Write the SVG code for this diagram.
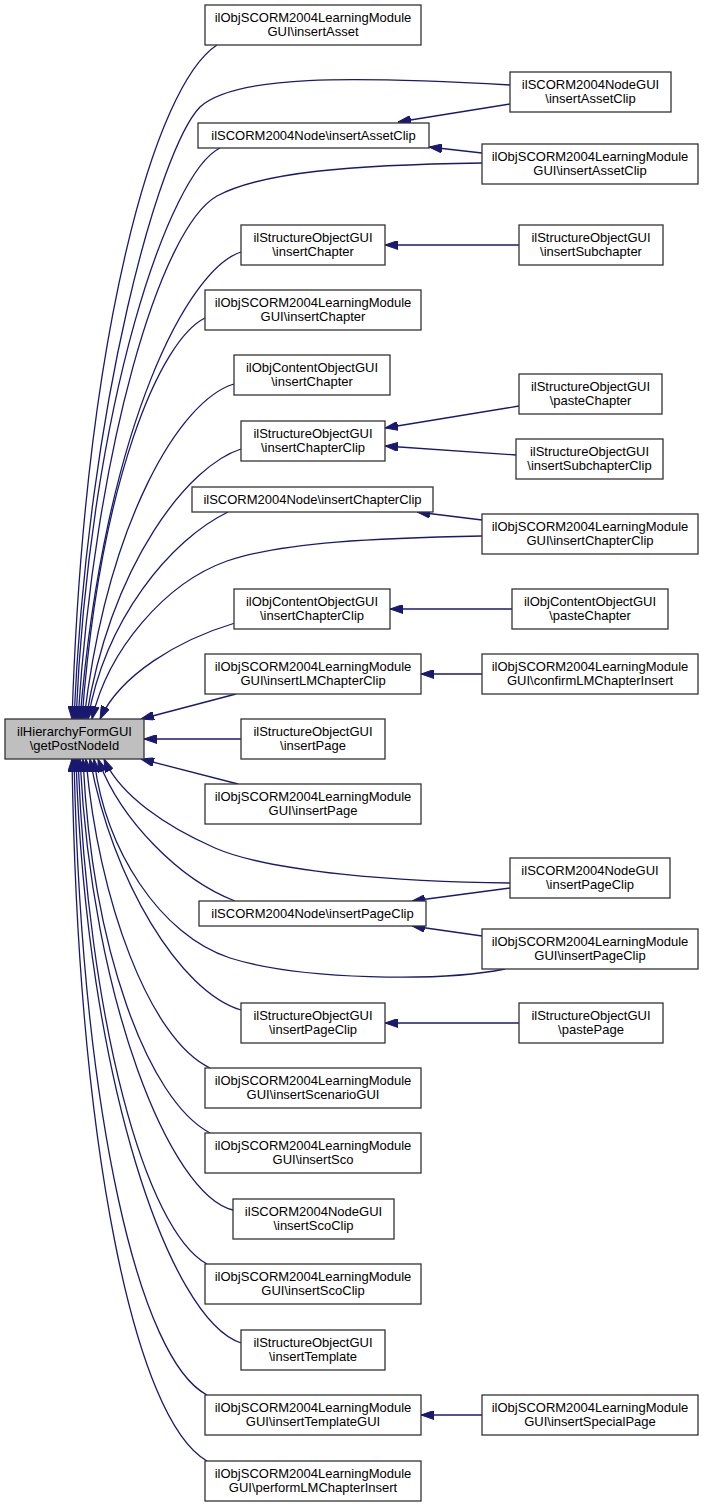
<svg xmlns="http://www.w3.org/2000/svg" width="705" height="1507" viewBox="0 0 705 1507">
<style>
.n rect{fill:#ffffff;stroke:#333333;stroke-width:1.3}
.m rect{fill:#bfbfbf;stroke:#333333;stroke-width:1.3}
text{font-family:"Liberation Sans",Arial,sans-serif;font-size:13px;fill:#000000;text-anchor:middle}
#edges path{fill:none;stroke:#191970;stroke-width:1.3;marker-end:url(#arr)}
</style>
<defs>
<marker id="arr" markerUnits="userSpaceOnUse" viewBox="0 0 13 9" refX="13" refY="4.5" markerWidth="13" markerHeight="9" orient="auto">
<path d="M0,0 L13,4.5 L0,9 z" fill="#191970" stroke="#191970" stroke-width="1"/>
</marker>
</defs>
<rect x="0" y="0" width="705" height="1507" fill="#ffffff"/>
<g id="edges">
<path d="M217,45 C155,85 85,330 72,719"/>
<path d="M510,85 C350,76 235,75 200,107 C160,148 88,400 74,719"/>
<path d="M220,148 C170,172 90,400 76,719"/>
<path d="M482,163 C350,165 262,172 217,196 C160,228 95,450 78,719"/>
<path d="M241,252 C190,268 105,420 80,719"/>
<path d="M205,318 C160,340 100,480 82,719"/>
<path d="M234,384 C180,400 108,520 84,719"/>
<path d="M241,449 C190,465 112,560 86,719"/>
<path d="M228,512 C170,540 105,620 88,719"/>
<path d="M482,536 C380,538 282,542 227,561 C165,583 108,650 92,719"/>
<path d="M235,623 C178,640 120,675 100,719"/>
<path d="M236,694 L141,719"/>
<path d="M241,739 L144,739"/>
<path d="M238,784 L141,759"/>
<path d="M510,883 C400,882 270,872 215,848 C165,826 120,795 104,759"/>
<path d="M235,901 C180,880 120,820 98,759"/>
<path d="M505,969 C440,982 300,980 230,958 C160,935 105,850 94,759"/>
<path d="M241,1010 C180,992 112,880 90,759"/>
<path d="M210,1068 C150,1040 98,900 86,759"/>
<path d="M210,1133 C148,1100 92,950 83,759"/>
<path d="M233,1210 C170,1195 92,1000 80,759"/>
<path d="M207,1264 C145,1230 88,1020 78,759"/>
<path d="M241,1343 C170,1320 86,1080 76,759"/>
<path d="M207,1395 C140,1360 82,1120 74,759"/>
<path d="M207,1461 C135,1420 78,1150 72,759"/>
<path d="M510,104 L398,122"/>
<path d="M482,153 L429,147"/>
<path d="M519,245 L385,245"/>
<path d="M519,406 L385,428"/>
<path d="M516,455 L385,446"/>
<path d="M482,520 L417,512"/>
<path d="M512,609 L390,609"/>
<path d="M482,674 L421,674"/>
<path d="M510,888 L412,901"/>
<path d="M482,936 L412,926"/>
<path d="M519,1023 L385,1023"/>
<path d="M482,1415 L421,1415"/>
</g>
<g id="main" class="m"><rect x="5" y="719" width="139" height="40"/><text x="74.5" y="736">ilHierarchyFormGUI</text><text x="74.5" y="750">\getPostNodeId</text></g>
<g id="n1" class="n"><rect x="205" y="5" width="216" height="40"/><text x="313" y="22">ilObjSCORM2004LearningModule</text><text x="313" y="36">GUI\insertAsset</text></g>
<g id="n2" class="n"><rect x="198" y="123" width="231" height="25"/><text x="313.5" y="140">ilSCORM2004Node\insertAssetClip</text></g>
<g id="n3" class="n"><rect x="241" y="225" width="144" height="40"/><text x="313" y="242">ilStructureObjectGUI</text><text x="313" y="256">\insertChapter</text></g>
<g id="n4" class="n"><rect x="205" y="290" width="216" height="40"/><text x="313" y="307">ilObjSCORM2004LearningModule</text><text x="313" y="321">GUI\insertChapter</text></g>
<g id="n5" class="n"><rect x="234" y="355" width="156" height="40"/><text x="312" y="372">ilObjContentObjectGUI</text><text x="312" y="386">\insertChapter</text></g>
<g id="n6" class="n"><rect x="241" y="421" width="144" height="40"/><text x="313" y="438">ilStructureObjectGUI</text><text x="313" y="452">\insertChapterClip</text></g>
<g id="n7" class="n"><rect x="192" y="487" width="241" height="25"/><text x="312.5" y="504">ilSCORM2004Node\insertChapterClip</text></g>
<g id="n8" class="n"><rect x="234" y="589" width="156" height="40"/><text x="312" y="606">ilObjContentObjectGUI</text><text x="312" y="620">\insertChapterClip</text></g>
<g id="n9" class="n"><rect x="205" y="654" width="216" height="40"/><text x="313" y="671">ilObjSCORM2004LearningModule</text><text x="313" y="685">GUI\insertLMChapterClip</text></g>
<g id="n10" class="n"><rect x="241" y="719" width="144" height="40"/><text x="313" y="736">ilStructureObjectGUI</text><text x="313" y="750">\insertPage</text></g>
<g id="n11" class="n"><rect x="205" y="784" width="216" height="40"/><text x="313" y="801">ilObjSCORM2004LearningModule</text><text x="313" y="815">GUI\insertPage</text></g>
<g id="n12" class="n"><rect x="199" y="901" width="227" height="25"/><text x="312.5" y="918">ilSCORM2004Node\insertPageClip</text></g>
<g id="n13" class="n"><rect x="241" y="1003" width="144" height="40"/><text x="313" y="1020">ilStructureObjectGUI</text><text x="313" y="1034">\insertPageClip</text></g>
<g id="n14" class="n"><rect x="205" y="1068" width="216" height="40"/><text x="313" y="1085">ilObjSCORM2004LearningModule</text><text x="313" y="1099">GUI\insertScenarioGUI</text></g>
<g id="n15" class="n"><rect x="205" y="1133" width="216" height="40"/><text x="313" y="1150">ilObjSCORM2004LearningModule</text><text x="313" y="1164">GUI\insertSco</text></g>
<g id="n16" class="n"><rect x="233" y="1199" width="161" height="40"/><text x="313.5" y="1216">ilSCORM2004NodeGUI</text><text x="313.5" y="1230">\insertScoClip</text></g>
<g id="n17" class="n"><rect x="205" y="1264" width="216" height="40"/><text x="313" y="1281">ilObjSCORM2004LearningModule</text><text x="313" y="1295">GUI\insertScoClip</text></g>
<g id="n18" class="n"><rect x="241" y="1330" width="144" height="40"/><text x="313" y="1347">ilStructureObjectGUI</text><text x="313" y="1361">\insertTemplate</text></g>
<g id="n19" class="n"><rect x="205" y="1395" width="216" height="40"/><text x="313" y="1412">ilObjSCORM2004LearningModule</text><text x="313" y="1426">GUI\insertTemplateGUI</text></g>
<g id="n20" class="n"><rect x="205" y="1461" width="216" height="40"/><text x="313" y="1478">ilObjSCORM2004LearningModule</text><text x="313" y="1492">GUI\performLMChapterInsert</text></g>
<g id="r1" class="n"><rect x="510" y="72" width="161" height="40"/><text x="590.5" y="89">ilSCORM2004NodeGUI</text><text x="590.5" y="103">\insertAssetClip</text></g>
<g id="r2" class="n"><rect x="482" y="144" width="216" height="40"/><text x="590" y="161">ilObjSCORM2004LearningModule</text><text x="590" y="175">GUI\insertAssetClip</text></g>
<g id="r3" class="n"><rect x="519" y="225" width="144" height="40"/><text x="591" y="242">ilStructureObjectGUI</text><text x="591" y="256">\insertSubchapter</text></g>
<g id="r4" class="n"><rect x="519" y="374" width="143" height="40"/><text x="590.5" y="391">ilStructureObjectGUI</text><text x="590.5" y="405">\pasteChapter</text></g>
<g id="r5" class="n"><rect x="516" y="439" width="147" height="40"/><text x="589.5" y="456">ilStructureObjectGUI</text><text x="589.5" y="470">\insertSubchapterClip</text></g>
<g id="r6" class="n"><rect x="482" y="514" width="216" height="40"/><text x="590" y="531">ilObjSCORM2004LearningModule</text><text x="590" y="545">GUI\insertChapterClip</text></g>
<g id="r7" class="n"><rect x="512" y="589" width="156" height="40"/><text x="590" y="606">ilObjContentObjectGUI</text><text x="590" y="620">\pasteChapter</text></g>
<g id="r8" class="n"><rect x="482" y="654" width="216" height="40"/><text x="590" y="671">ilObjSCORM2004LearningModule</text><text x="590" y="685">GUI\confirmLMChapterInsert</text></g>
<g id="r9" class="n"><rect x="510" y="858" width="160" height="40"/><text x="590" y="875">ilSCORM2004NodeGUI</text><text x="590" y="889">\insertPageClip</text></g>
<g id="r10" class="n"><rect x="482" y="929" width="216" height="40"/><text x="590" y="946">ilObjSCORM2004LearningModule</text><text x="590" y="960">GUI\insertPageClip</text></g>
<g id="r11" class="n"><rect x="519" y="1003" width="144" height="40"/><text x="591" y="1020">ilStructureObjectGUI</text><text x="591" y="1034">\pastePage</text></g>
<g id="r12" class="n"><rect x="482" y="1395" width="216" height="40"/><text x="590" y="1412">ilObjSCORM2004LearningModule</text><text x="590" y="1426">GUI\insertSpecialPage</text></g>
</svg>
